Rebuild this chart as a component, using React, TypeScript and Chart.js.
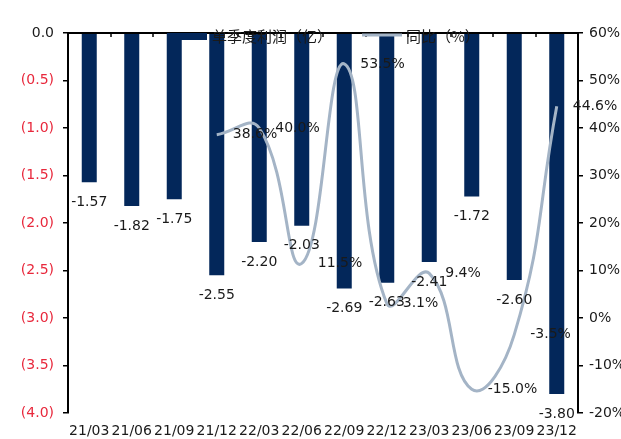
import React, { useEffect, useRef } from 'react';
import { Chart, registerables } from 'chart.js';

Chart.register(...registerables);

const categories = ['21/03', '21/06', '21/09', '21/12', '22/03', '22/06', '22/09', '22/12', '23/03', '23/06', '23/09', '23/12'];
const profit = [-1.57, -1.82, -1.75, -2.55, -2.2, -2.03, -2.69, -2.63, -2.41, -1.72, -2.6, -3.8];
const yoy: (number | null)[] = [null, null, null, 38.6, 40.0, 11.5, 53.5, 3.1, 9.4, -15.0, -3.5, 44.6];
const profitLabel = '单季度利润（亿）';
const yoyLabel = '同比（%）';

const BAR_COLOR = '#03275a';
const LINE_COLOR = '#a4b4c6';
const TEXT_COLOR = '#1a1a1a';
const RED = '#e8283c';
const NUM_FONT = '"DejaVu Sans", sans-serif';
const CJK_FONT = '"Noto Sans CJK SC", sans-serif';

const overlay = {
  id: 'overlay',
  afterDatasetsDraw(chart: any) {
    const ctx = chart.ctx as CanvasRenderingContext2D;
    const x = chart.scales.x;
    const y = chart.scales.y;
    const area = chart.chartArea;
    ctx.save();
    // zero axis line at top with category tick marks
    const y0 = y.getPixelForValue(0);
    ctx.strokeStyle = '#000';
    ctx.lineWidth = 2;
    ctx.beginPath();
    ctx.moveTo(area.left, y0);
    ctx.lineTo(area.right, y0);
    ctx.stroke();
    ctx.lineWidth = 1.5;
    for (let i = 1; i < categories.length; i++) {
      const px = Math.round((x.getPixelForValue(i - 1) + x.getPixelForValue(i)) / 2);
      ctx.beginPath();
      ctx.moveTo(px, y0);
      ctx.lineTo(px, y0 + 4);
      ctx.stroke();
    }

    ctx.fillStyle = TEXT_COLOR;
    ctx.font = `14px ${NUM_FONT}`;
    // bar labels
    const barMeta = chart.getDatasetMeta(1);
    ctx.textAlign = 'center';
    ctx.textBaseline = 'middle';
    barMeta.data.forEach((el: any, i: number) => {
      ctx.fillText(profit[i].toFixed(2), el.x, el.y + 20);
    });
    // line labels
    const lineMeta = chart.getDatasetMeta(0);
    ctx.textAlign = 'left';
    lineMeta.data.forEach((el: any, i: number) => {
      const v = yoy[i];
      if (v === null || el.skip) return;
      ctx.fillText(`${v.toFixed(1)}%`, el.x + 16, el.y);
    });

    // legend
    const ly = area.top + 3;
    ctx.fillStyle = BAR_COLOR;
    ctx.fillRect(167, area.top, 40, 7);
    ctx.fillStyle = TEXT_COLOR;
    ctx.font = `15px ${CJK_FONT}`;
    ctx.textAlign = 'left';
    ctx.textBaseline = 'middle';
    ctx.fillText(profitLabel, 212, ly);
    ctx.strokeStyle = LINE_COLOR;
    ctx.lineWidth = 3;
    ctx.beginPath();
    ctx.moveTo(362, ly - 1);
    ctx.lineTo(402, ly - 1);
    ctx.stroke();
    ctx.fillText(yoyLabel, 406, ly);
    ctx.restore();
  },
};

export default function App() {
  const ref = useRef<HTMLCanvasElement>(null);
  useEffect(() => {
    document.body.style.margin = '0';
    const canvas = ref.current!;
    const chart = new Chart(canvas, {
      type: 'bar',
      data: {
        labels: categories,
        datasets: [
          {
            type: 'line',
            label: yoyLabel,
            data: yoy,
            yAxisID: 'y1',
            borderColor: LINE_COLOR,
            borderWidth: 3,
            pointRadius: 0,
            tension: 0.45,
            fill: false,
            order: 0,
          } as any,
          {
            type: 'bar',
            label: profitLabel,
            data: profit,
            yAxisID: 'y',
            backgroundColor: BAR_COLOR,
            categoryPercentage: 1,
            barPercentage: 0.353,
            order: 1,
          },
        ],
      },
      options: {
        responsive: false,
        animation: false,
        layout: { padding: { top: 33, left: 0, right: 0, bottom: 0 } },
        plugins: {
          legend: { display: false },
          tooltip: { enabled: false },
        },
        scales: {
          x: {
            grid: { display: false, drawTicks: false },
            border: { display: false },
            ticks: {
              autoSkip: false,
              maxRotation: 0,
              minRotation: 0,
              padding: 10,
              color: TEXT_COLOR,
              font: { family: NUM_FONT, size: 14 },
            },
            afterFit(scale: any) {
              scale.height = 26;
            },
          },
          y: {
            position: 'left',
            min: -4,
            max: 0,
            ticks: {
              stepSize: 0.5,
              padding: 9,
              font: { family: NUM_FONT, size: 14 },
              color: (c: any) => (c.tick && c.tick.value === 0 ? TEXT_COLOR : RED),
              callback: (v: any) => (Number(v) === 0 ? '0.0' : `(${Math.abs(Number(v)).toFixed(1)})`),
            },
            grid: { drawOnChartArea: false, drawTicks: true, tickLength: 5, color: '#000', lineWidth: 1.5 },
            border: { display: true, color: '#000', width: 2 },
            afterFit(scale: any) {
              scale.width = 68;
            },
          },
          y1: {
            position: 'right',
            min: -20,
            max: 60,
            ticks: {
              stepSize: 10,
              padding: 6,
              color: TEXT_COLOR,
              font: { family: NUM_FONT, size: 14 },
              callback: (v: any) => `${v}%`,
            },
            grid: { drawOnChartArea: false, drawTicks: true, tickLength: 5, color: '#000', lineWidth: 1.5 },
            border: { display: true, color: '#000', width: 2 },
            afterFit(scale: any) {
              scale.width = 43;
            },
          },
        },
      },
      plugins: [overlay],
    });
    return () => chart.destroy();
  }, []);
  return (
    <div style={{ width: 621, height: 439 }}>
      <canvas ref={ref} width={621} height={439} style={{ width: 621, height: 439, display: 'block' }} />
    </div>
  );
}
